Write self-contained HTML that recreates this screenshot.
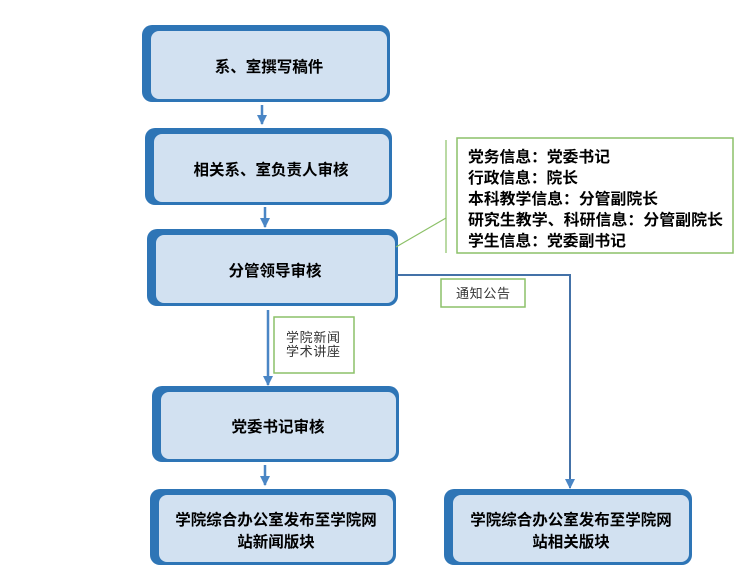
<!DOCTYPE html>
<html><head><meta charset="utf-8"><style>
html,body{margin:0;padding:0;background:#fff;}
svg{display:block;}
.t{font-family:"Liberation Sans","Noto Sans CJK SC",sans-serif;font-weight:bold;font-size:15.5px;fill:#000;text-anchor:middle;}
.c{font-family:"Liberation Sans","Noto Sans CJK SC",sans-serif;font-weight:bold;font-size:15.5px;fill:#000;}
.l{font-family:"Liberation Sans","Noto Sans CJK SC",sans-serif;font-size:13px;fill:#333;}
</style></head><body>
<svg width="741" height="575" viewBox="0 0 741 575" xmlns="http://www.w3.org/2000/svg">
<defs>
<marker id="a" markerWidth="10" markerHeight="10" refX="9" refY="5" orient="auto" markerUnits="userSpaceOnUse"><path d="M0,0 L10,5 L0,10 Z" fill="#4a86c5"/></marker>
</defs>
<g fill="#2e75b6">
<rect x="142" y="25" width="248" height="77" rx="10"/>
<rect x="145" y="128" width="247" height="77" rx="10"/>
<rect x="147" y="229" width="251" height="77" rx="10"/>
<rect x="152" y="386" width="247" height="76" rx="10"/>
<rect x="150" y="489" width="246" height="76" rx="10"/>
<rect x="444" y="489" width="248" height="76" rx="10"/>
</g>
<g fill="#d2e1f1">
<rect x="151" y="31" width="236" height="68" rx="8"/>
<rect x="154" y="134" width="235" height="68" rx="8"/>
<rect x="156" y="235" width="239" height="68" rx="8"/>
<rect x="161" y="392" width="235" height="67" rx="8"/>
<rect x="159" y="495" width="234" height="67" rx="8"/>
<rect x="453" y="495" width="236" height="67" rx="8"/>
</g>
<text class="t" x="269" y="72">系、室撰写稿件</text>
<text class="t" x="271" y="175">相关系、室负责人审核</text>
<text class="t" x="275" y="276">分管领导审核</text>
<text class="t" x="278" y="432">党委书记审核</text>
<text class="t" x="276" y="525">学院综合办公室发布至学院网</text>
<text class="t" x="276" y="547">站新闻版块</text>
<text class="t" x="571" y="525">学院综合办公室发布至学院网</text>
<text class="t" x="571" y="547">站相关版块</text>
<g stroke="#4a86c5" stroke-width="2.5" fill="none">
<line x1="262" y1="105" x2="262" y2="124" marker-end="url(#a)"/>
<line x1="265" y1="207" x2="265" y2="227" marker-end="url(#a)"/>
<line x1="268" y1="310" x2="268" y2="385" marker-end="url(#a)"/>
<line x1="265" y1="465" x2="265" y2="485" marker-end="url(#a)"/>
</g>
<polyline points="397,275 570,275 570,488" stroke="#4472a8" stroke-width="2" fill="none" marker-end="url(#a)"/>
<line x1="396" y1="247" x2="446" y2="218" stroke="#8cc168" stroke-width="1.2"/>
<line x1="446" y1="140" x2="446" y2="253" stroke="#8cc168" stroke-width="1.2"/>
<rect x="457" y="138" width="276" height="115" fill="#fff" stroke="#8cc168" stroke-width="1.5"/>
<text class="c" x="468" y="162" textLength="142" lengthAdjust="spacingAndGlyphs">党务信息：党委书记</text>
<text class="c" x="468" y="183" textLength="110" lengthAdjust="spacingAndGlyphs">行政信息：院长</text>
<text class="c" x="468" y="204" textLength="190" lengthAdjust="spacingAndGlyphs">本科教学信息：分管副院长</text>
<text class="c" x="468" y="225" textLength="255" lengthAdjust="spacingAndGlyphs">研究生教学、科研信息：分管副院长</text>
<text class="c" x="468" y="246" textLength="158" lengthAdjust="spacingAndGlyphs">学生信息：党委副书记</text>
<rect x="274" y="317" width="80" height="56" fill="#fff" stroke="#8cc168" stroke-width="1.5"/>
<text class="l" x="286" y="342" textLength="54">学院新闻</text>
<text class="l" x="286" y="356" textLength="54">学术讲座</text>
<rect x="441" y="279" width="84" height="28" fill="#fff" stroke="#8cc168" stroke-width="1.5"/>
<text class="l" x="456" y="298" textLength="54">通知公告</text>
</svg>
</body></html>
